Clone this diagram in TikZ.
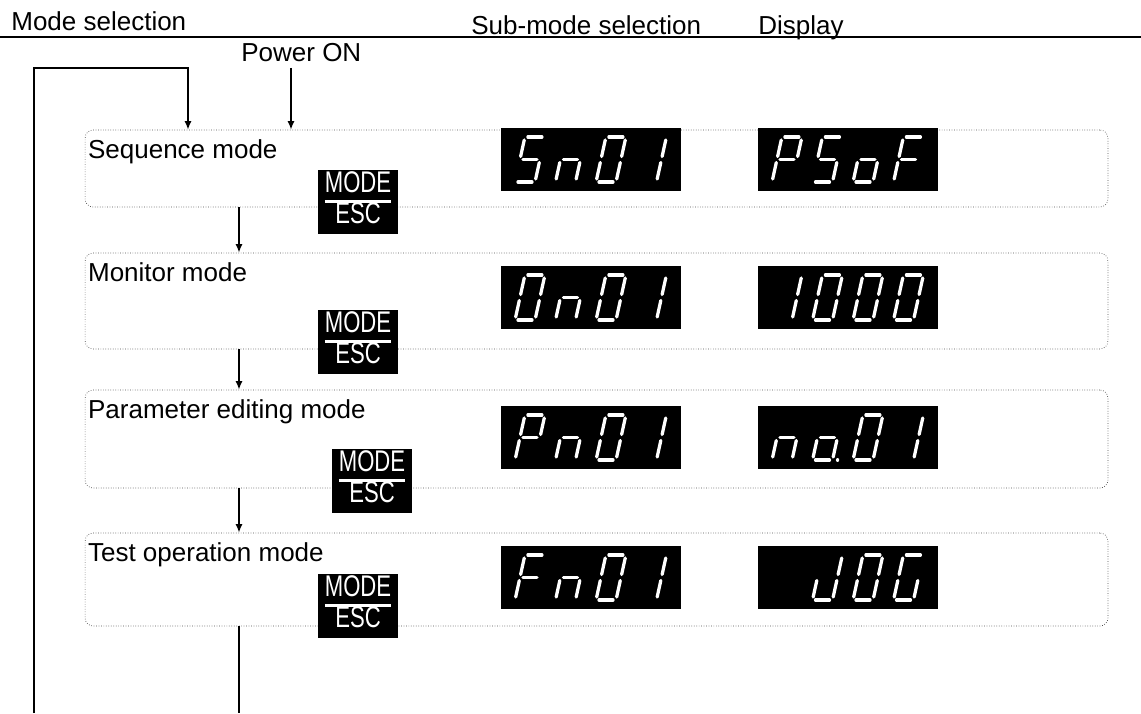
\documentclass[tikz,border=0pt]{standalone}
\usepackage{fontspec}
\usepackage{graphicx}
\setmainfont{Liberation Sans}
\usetikzlibrary{arrows.meta, positioning}

% segments of one seven-segment digit (px, y up, origin bottom-left)
\tikzset{
    seg/.style={draw=white, line width=0.065cm, line cap=round},
    seg a/.style={insert path={(3,45) -- (17,45)}},
    seg b/.style={insert path={(20,42) -- (20,25.5)}},
    seg c/.style={insert path={(20,19.5) -- (20,3)}},
    seg d/.style={insert path={(3,0) -- (17,0)}},
    seg e/.style={insert path={(0,3) -- (0,19.5)}},
    seg f/.style={insert path={(0,25.5) -- (0,42)}},
    seg g/.style={insert path={(3,22.5) -- (17,22.5)}},
    seg p/.style={insert path={(25,0) -- (25.1,0)}},
    seg x/.style={},
}

\newcommand{\lcddigit}[3]{%
    \begin{scope}[shift={(#1,#2)}, x=0.02cm, y=0.02cm, xslant=0.22]
        \foreach \s in {#3} {\path[seg, seg \s];}
    \end{scope}}

% name, left x, bottom y, four digits
\newcommand{\lcdpanel}[7]{%
    \node[lcd, anchor=south west] (#1) at (#2,#3) {};
    \lcddigit{{#2+14}}{{#3-9}}{#4}
    \lcddigit{{#2+54.5}}{{#3-9}}{#5}
    \lcddigit{{#2+95}}{{#3-9}}{#6}
    \lcddigit{{#2+135.5}}{{#3-9}}{#7}}

\newcommand{\modeesc}{\scalebox{0.74}[1]{\begin{tabular}{@{}c@{}}MODE\\[-1pt]\hline ESC\end{tabular}}}

\setlength{\arrayrulewidth}{1.6pt}

\begin{document}
\begin{tikzpicture}[
    x=0.02cm, y=-0.02cm,
    every node/.style={font=\fontsize{14.8}{17}\selectfont},
    modebox/.style={
        draw=black!70, densely dotted, rounded corners=0.16cm,
        minimum width=20.46cm, inner sep=0pt
    },
    boxtitle/.style={anchor=north west, inner sep=0pt},
    lcd/.style={fill=black, minimum width=3.6cm, minimum height=1.26cm, inner sep=0pt},
    modekey/.style={
        fill=black, text=white, inner sep=0pt,
        minimum width=1.6cm, minimum height=1.28cm,
        font=\fontsize{17}{17}\selectfont
    },
    flow/.style={-{Latex[length=0.17cm, width=0.14cm]}, line width=0.03cm},
    wire/.style={line width=0.03cm},
]
\useasboundingbox (0,0) rectangle (1141,713);

% header
\node[anchor=base west, inner sep=0pt] (modesel) at (11,31) {Mode selection};
\node[anchor=base west, inner sep=0pt] (subsel) at (471,35) {Sub-mode selection};
\node[anchor=base west, inner sep=0pt] (dispex) at (758,35) {Display};
\coordinate (hdrleft) at (0,37);
\coordinate (hdrright) at (1141,37);
\draw[line width=0.04cm] (hdrleft) -- (hdrright);

\node[anchor=base west, inner sep=0pt] (power) at (241,62) {Power ON};

% mode boxes
\node[modebox, minimum height=1.54cm] (seqbox) at (596.5,168.5) {};
\node[modebox, minimum height=1.92cm] (monbox) at (596.5,301) {};
\node[modebox, minimum height=1.96cm] (parbox) at (596.5,439) {};
\node[modebox, minimum height=1.86cm] (tstbox) at (596.5,579.5) {};

\node[boxtitle] (seqtitle) at ([xshift=0.06cm, yshift=-0.19cm]seqbox.north west) {Sequence mode};
\node[boxtitle] (montitle) at ([xshift=0.06cm, yshift=-0.19cm]monbox.north west) {Monitor mode};
\node[boxtitle] (partitle) at ([xshift=0.06cm, yshift=-0.19cm]parbox.north west) {Parameter editing mode};
\node[boxtitle] (tsttitle) at ([xshift=0.06cm, yshift=-0.19cm]tstbox.north west) {Test operation mode};

% displays: sub-mode and example
\lcdpanel{seqsub}{501}{191}{a,f,g,c,d}{e,g,c}{a,b,c,d,e,f}{b,c}
\lcdpanel{seqex}{758}{191}{a,b,f,g,e}{a,f,g,c,d}{g,c,d,e}{a,f,g,e}
\lcdpanel{monsub}{501}{329}{a,b,c,d,e,f}{e,g,c}{a,b,c,d,e,f}{b,c}
\lcdpanel{monex}{758}{329}{b,c}{a,b,c,d,e,f}{a,b,c,d,e,f}{a,b,c,d,e,f}
\lcdpanel{parsub}{501}{469}{a,b,f,g,e}{e,g,c}{a,b,c,d,e,f}{b,c}
\lcdpanel{parex}{758}{469}{e,g,c}{g,c,d,e,p}{a,b,c,d,e,f}{b,c}
\lcdpanel{tstsub}{501}{609}{a,f,g,e}{e,g,c}{a,b,c,d,e,f}{b,c}
\lcdpanel{tstex}{758}{609}{x}{b,c,d,e}{a,b,c,d,e,f}{a,f,e,d,c}

% MODE/ESC keys
\node[modekey] (seqkey) at (358,202) {\modeesc};
\node[modekey] (monkey) at (358,342) {\modeesc};
\node[modekey] (parkey) at (372,481) {\modeesc};
\node[modekey] (tstkey) at (358,606) {\modeesc};

% flow between modes
\coordinate (stepx) at (239,0);
\coordinate (loopx) at (34,713);
\coordinate (loopin) at (188,68);
\coordinate (pwrin) at (291,68);
\coordinate (loopout) at (239,713);

\draw[flow] (loopx) |- (loopin) -- (loopin |- seqbox.north);
\draw[flow] (pwrin) -- (pwrin |- seqbox.north);
\draw[flow] (seqbox.south -| stepx) -- (monbox.north -| stepx);
\draw[flow] (monbox.south -| stepx) -- (parbox.north -| stepx);
\draw[flow] (parbox.south -| stepx) -- (tstbox.north -| stepx);
\draw[wire] (tstbox.south -| stepx) -- (loopout);

\end{tikzpicture}
\end{document}
